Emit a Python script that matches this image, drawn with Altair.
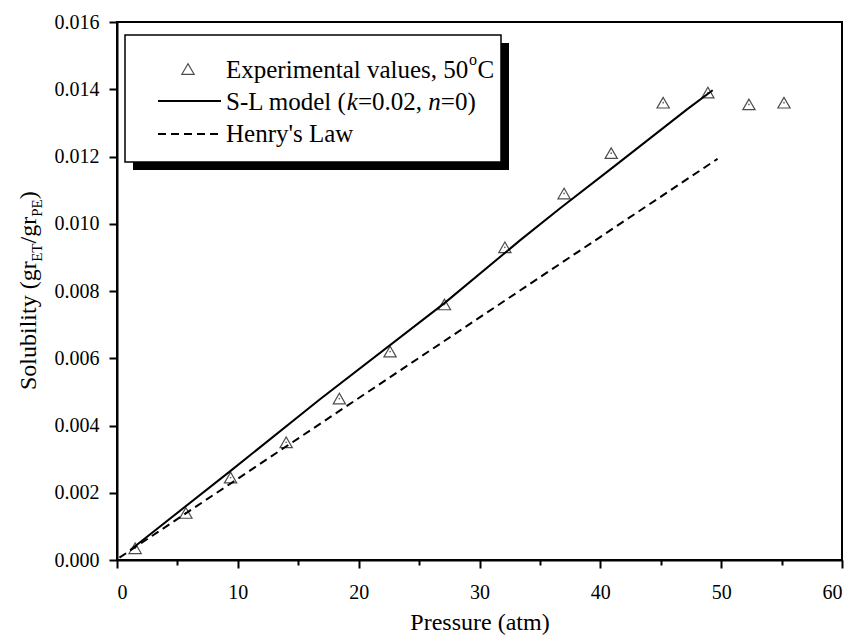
import altair as alt
import pandas as pd

# ---- data ----
exp_p = [1.5, 5.7, 9.4, 14.0, 18.4, 22.6, 27.1, 32.1, 37.0, 40.9, 45.2, 48.9, 52.3, 55.2]
exp_v = [0.00035, 0.0014, 0.00245, 0.0035, 0.0048, 0.0062, 0.0076, 0.0093,
         0.0109, 0.0121, 0.0136, 0.0139, 0.01355, 0.0136]

sl_p = [1.1, 9.4, 16.8, 27.1, 33.4, 36.7, 40.8, 47.2, 49.3]
sl_v = [0.0003, 0.00265, 0.00478, 0.00764, 0.00952, 0.01047, 0.01161, 0.01341, 0.01397]

henry_p = [0.2, 17.1, 37.8, 49.7]
henry_v = [0.00007, 0.00412, 0.00908, 0.01193]

x_ticks = [0, 5, 10, 15, 20, 25, 30, 35, 40, 45, 50, 55, 60]
y_ticks = [i / 1000 for i in range(17)]

FONT = "Liberation Serif"

exp_df = pd.DataFrame({"p": exp_p, "v": exp_v})
sl_df = pd.DataFrame({"p": sl_p, "v": sl_v})
he_df = pd.DataFrame({"p": henry_p, "v": henry_v})

xscale = alt.Scale(domain=[0, 60], nice=False, zero=False)
yscale = alt.Scale(domain=[0, 0.016], nice=False, zero=False)

x_axis = alt.Axis(
    values=x_ticks,
    tickSize={"condition": {"test": "datum.value % 10 === 0", "value": 8}, "value": 5},
    labelExpr="datum.value % 10 === 0 ? datum.label : ''",
    labelOverlap=False,
    grid=False,
    domainColor="black", domainWidth=2,
    tickColor="black", tickWidth=2,
    labelFont=FONT, labelFontSize=20, labelColor="black", labelPadding=14,
    title="Pressure (atm)", titleFont=FONT, titleFontSize=24,
    titleFontWeight="normal", titleColor="black", titlePadding=8,
)
y_axis = alt.Axis(
    values=y_ticks,
    format=".3f",
    tickSize={"condition": {"test": "round(datum.value * 1000) % 2 === 0", "value": 8}, "value": 5},
    labelExpr="round(datum.value * 1000) % 2 === 0 ? datum.label : ''",
    labelOverlap=False,
    grid=False,
    domainColor="black", domainWidth=2,
    tickColor="black", tickWidth=2,
    labelFont=FONT, labelFontSize=20, labelColor="black", labelPadding=10,
    title=None,
)

X = alt.X("p:Q", scale=xscale, axis=x_axis)
Y = alt.Y("v:Q", scale=yscale, axis=y_axis)

points = alt.Chart(exp_df).mark_point(
    shape="triangle-up", filled=False, color="black", size=150, strokeWidth=1.2
).encode(x=X, y=Y)
dots = alt.Chart(exp_df).mark_circle(size=3, color="black", opacity=0.6).encode(
    x=alt.X("p:Q", scale=xscale), y=alt.Y("v:Q", scale=yscale))

sl_line = alt.Chart(sl_df).mark_line(color="black", strokeWidth=2).encode(
    x=alt.X("p:Q", scale=xscale), y=alt.Y("v:Q", scale=yscale))
he_line = alt.Chart(he_df).mark_line(color="black", strokeWidth=2, strokeDash=[8, 5]).encode(
    x=alt.X("p:Q", scale=xscale), y=alt.Y("v:Q", scale=yscale))

ONE = alt.Data(values=[{}])


def txt(x, y, s, size=25, style="normal", baseline="middle", angle=0, align="left"):
    kw = dict(font=FONT, fontSize=size, fontStyle=style, color="black",
              align=align, baseline=baseline)
    if angle:
        kw["angle"] = angle
    return alt.Chart(ONE).mark_text(**kw).encode(
        x=alt.value(x), y=alt.value(y), text=alt.value(s))


def box(x1, y1, x2, y2, fill, stroke=None, sw=0):
    kw = dict(fill=fill)
    if stroke:
        kw.update(stroke=stroke, strokeWidth=sw)
    return alt.Chart(ONE).mark_rect(**kw).encode(
        x=alt.value(x1), x2=alt.value(x2), y=alt.value(y1), y2=alt.value(y2))


# legend (pixel positions relative to plot area origin at (117, 22))
OX, OY = 117, 22
LX1, LY1, LX2, LY2 = 125 - OX, 35 - OY, 501 - OX, 162 - OY
legend = [
    box(LX1 + 8, LY1 + 8, LX2 + 8, LY2 + 8, "black"),
    box(LX1, LY1, LX2, LY2, "white", "black", 1.5),
    alt.Chart(ONE).mark_point(shape="triangle-up", filled=False, color="black",
                              size=150, strokeWidth=1.2).encode(
        x=alt.value(188 - OX), y=alt.value(69 - OY)),
    alt.Chart(ONE).mark_rule(color="black", strokeWidth=2).encode(
        x=alt.value(158 - OX), x2=alt.value(221 - OX), y=alt.value(101 - OY)),
    alt.Chart(ONE).mark_rule(color="black", strokeWidth=2, strokeDash=[8, 5]).encode(
        x=alt.value(158 - OX), x2=alt.value(221 - OX), y=alt.value(134 - OY)),
]
tx = 226 - OX
r1, r2, r3 = 70 - OY, 102 - OY, 134 - OY
legend += [
    txt(tx, r1, "Experimental values, 50"),
    txt(tx + 243, r1 - 10, "o", size=16),
    txt(tx + 251.5, r1, "C"),
    txt(tx, r2, "S-L model ("),
    txt(tx + 120.8, r2, "k", style="italic"),
    txt(tx + 131.9, r2, "=0.02, "),
    txt(tx + 202.3, r2, "n", style="italic"),
    txt(tx + 214.8, r2, "=0)"),
    txt(tx, r3, "Henry's Law"),
]

# y-axis title with subscripts (rotated)
tbx = 36 - OX
y0 = 390 - OY
ytitle = [
    txt(tbx, y0, "Solubility (gr", size=24, baseline="alphabetic", angle=270),
    txt(tbx + 6, y0 - 128.2, "ET", size=15, baseline="alphabetic", angle=270),
    txt(tbx, y0 - 146.5, "/gr", size=24, baseline="alphabetic", angle=270),
    txt(tbx + 6, y0 - 173.2, "PE", size=15, baseline="alphabetic", angle=270),
    txt(tbx, y0 - 190.7, ")", size=24, baseline="alphabetic", angle=270),
]

chart = alt.layer(
    he_line, sl_line, points, dots, *legend, *ytitle
).properties(
    width=725, height=538,
    padding={"left": 117, "top": 22, "right": 12, "bottom": 83},
    autosize="none",
    background="white",
).configure(font=FONT).configure_axis(
    labelFont=FONT, titleFont=FONT
).configure_text(font=FONT).configure_view(stroke="black", strokeWidth=2)

chart.save("out.html", embed_options={"renderer": "svg", "actions": False})
